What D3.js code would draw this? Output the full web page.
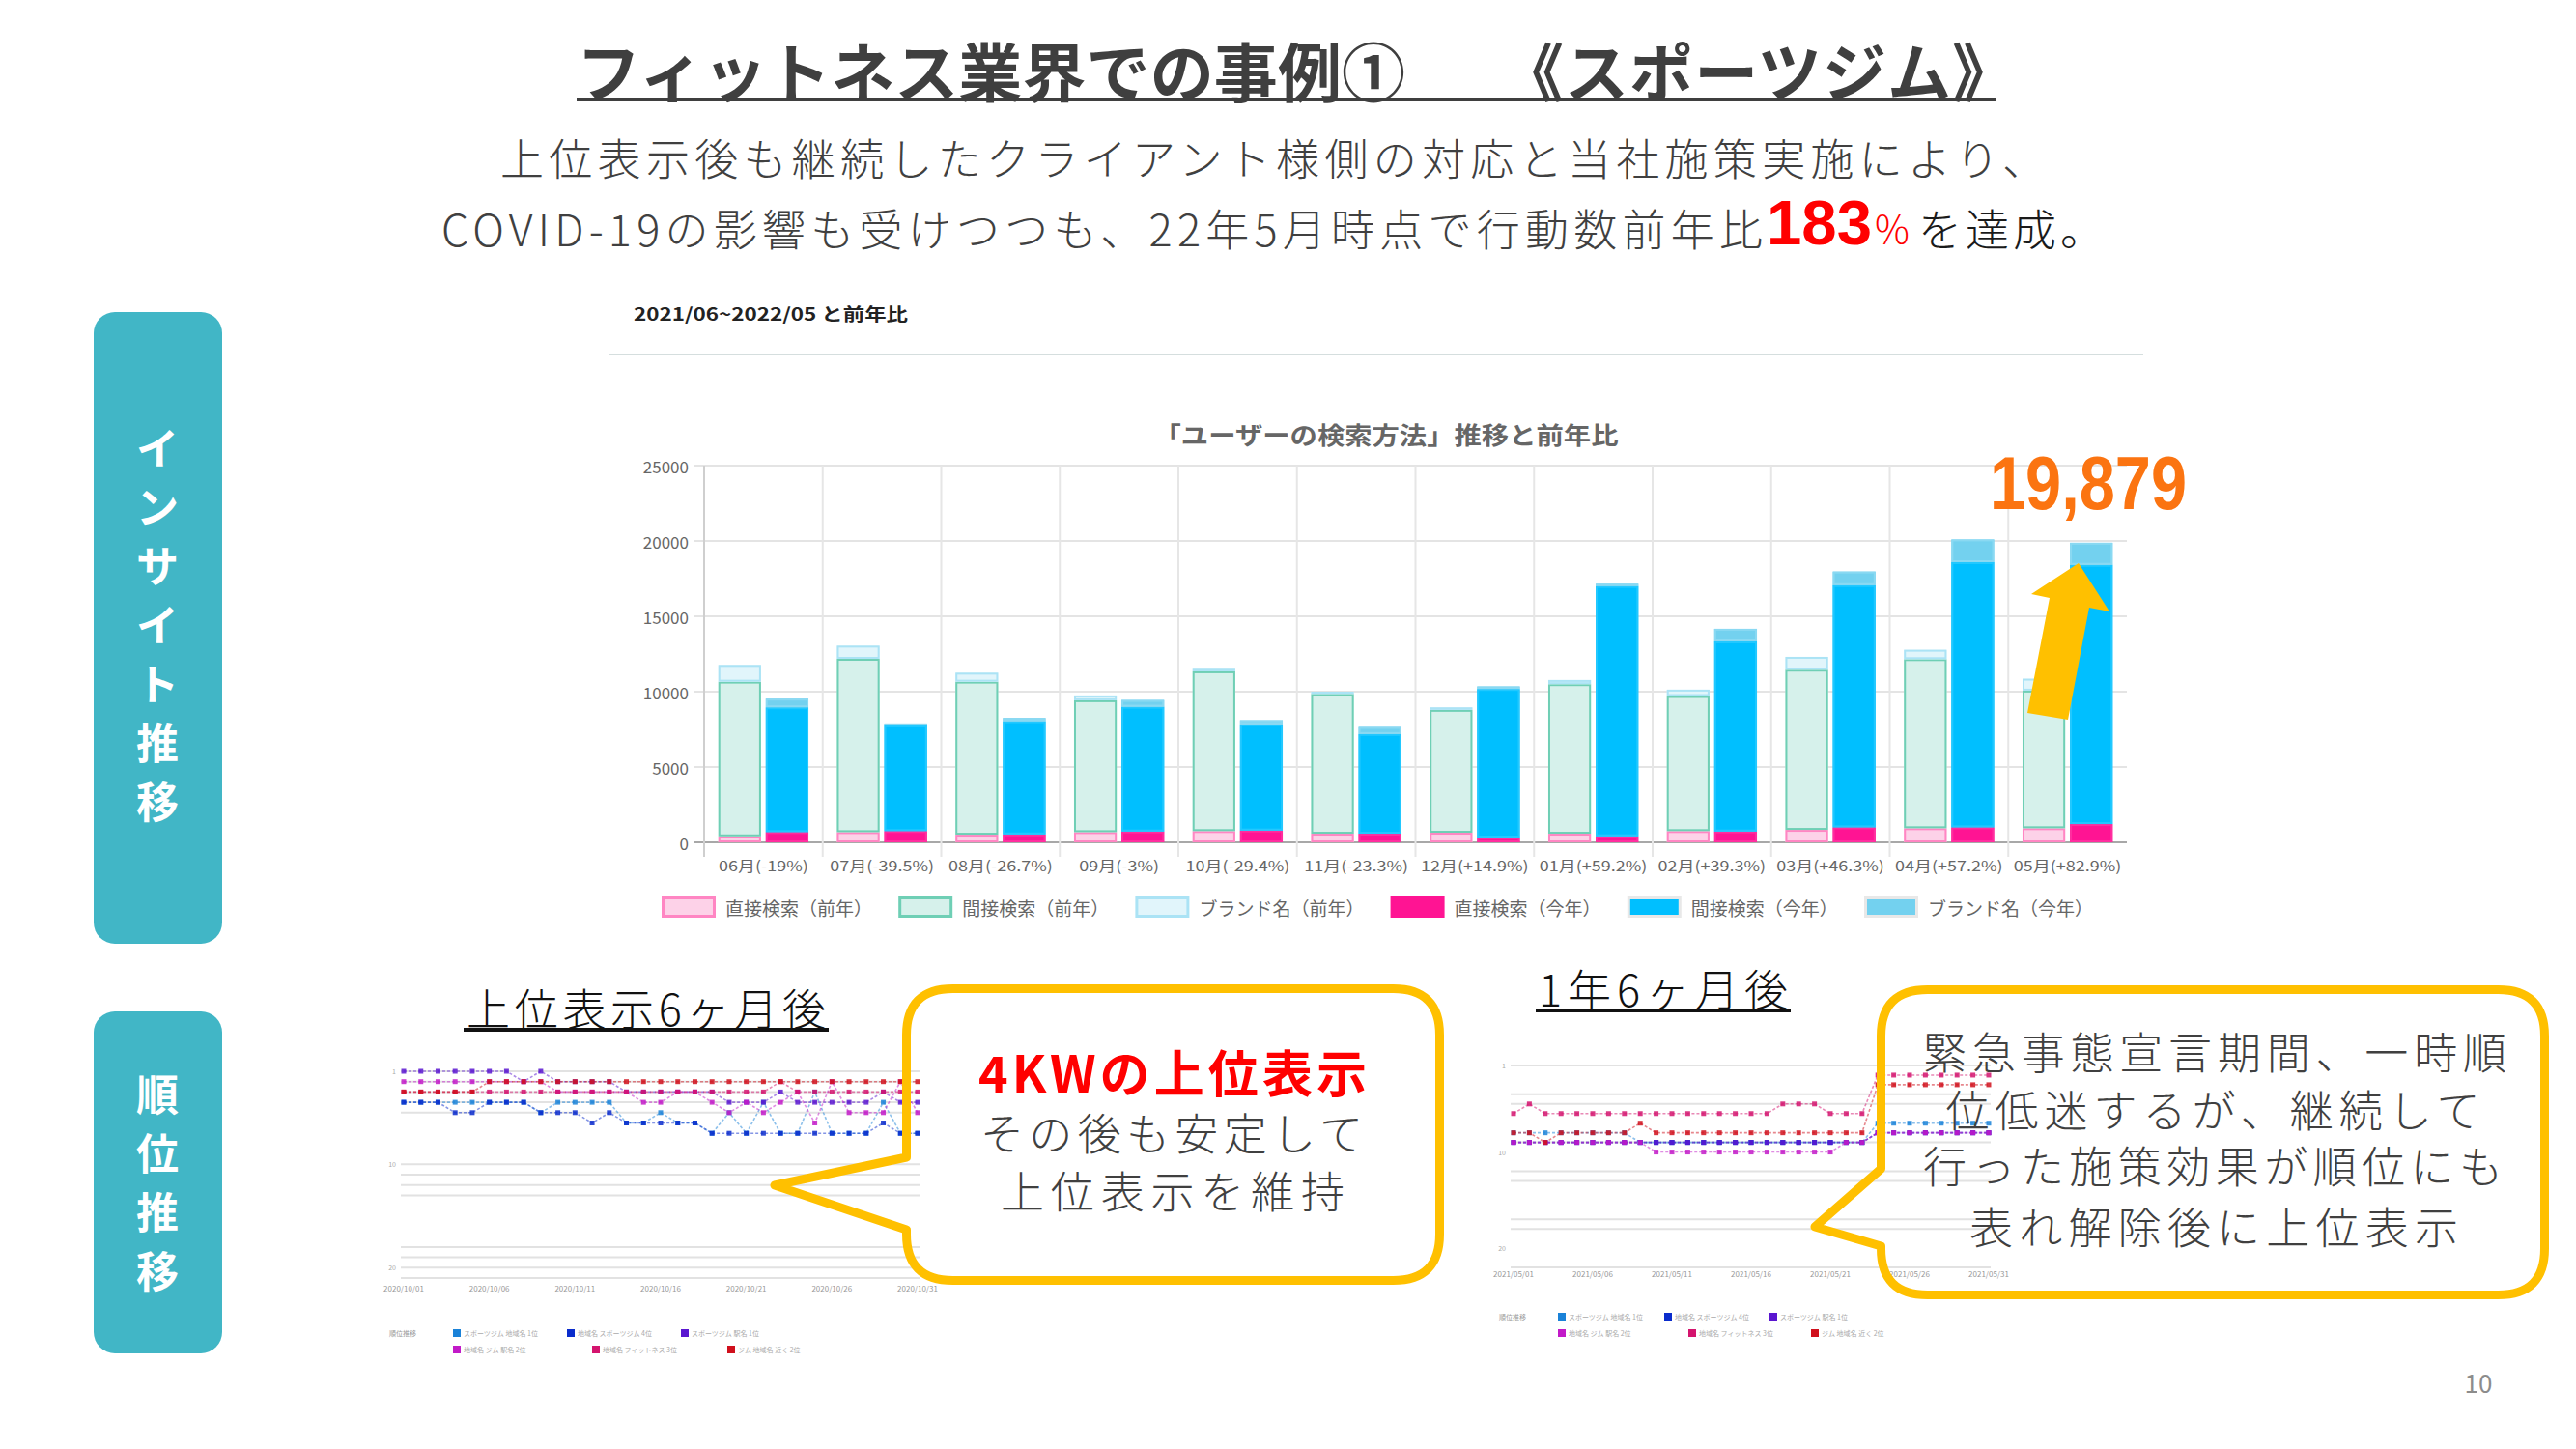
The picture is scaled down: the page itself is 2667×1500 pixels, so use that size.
<!DOCTYPE html>
<html><head><meta charset="utf-8">
<script src="https://cdn.jsdelivr.net/npm/d3@7"></script>
<style>
html,body{margin:0;padding:0;background:#fff;}
body{position:relative;width:2667px;height:1500px;overflow:hidden;}
svg{display:block;position:absolute;left:0;top:0;}
.ht{position:absolute;white-space:nowrap;}
</style></head>
<body>
<svg id="c" width="2667" height="1500"></svg>
<script>
// ---------------- DATA ----------------
const months = ["06月(-19%)","07月(-39.5%)","08月(-26.7%)","09月(-3%)","10月(-29.4%)","11月(-23.3%)","12月(+14.9%)","01月(+59.2%)","02月(+39.3%)","03月(+46.3%)","04月(+57.2%)","05月(+82.9%)"];
const prevDirect   = [400, 680, 510, 680, 750, 575, 640, 575, 750, 830, 940, 940];
const prevIndirect = [10265, 11500, 10155, 8750, 10600, 9280, 8150, 9925, 8960, 10630, 11220, 9130];
const prevBrand    = [1110, 875, 595, 320, 170, 145, 170, 275, 425, 850, 620, 790];
const curDirect    = [683, 750, 530, 725, 790, 575, 320, 405, 725, 1000, 1000, 1215];
const curIndirect  = [8277, 7015, 7510, 8275, 7040, 6615, 9860, 16605, 12610, 16070, 17590, 17200];
const curBrand     = [575, 125, 215, 450, 275, 470, 170, 150, 835, 900, 1510, 1464];
const yTicks = [0, 5000, 10000, 15000, 20000, 25000];
const legendLabels = ["直接検索（前年）","間接検索（前年）","ブランド名（前年）","直接検索（今年）","間接検索（今年）","ブランド名（今年）"];
const highlightValue = "19,879";

// ranking mini charts (31 daily points, rank values)
const rank1Azure   = [4,4,4,4,4,4,4,4,5,4,4,4,4,6,6,5,6,6,7,5,7,4,7,7,3,7,7,7,4,7,7];
const rank1Blue    = [4,4,4,5,5,4,4,4,5,5,5,6,5,6,6,6,6,6,7,7,7,7,7,7,7,7,7,7,6,7,7];
const rank1Violet  = [1,1,1,1,1,1,1,2,1,2,2,2,2,3,3,3,3,3,3,4,4,4,3,4,4,4,4,4,3,4,4];
const rank1Magenta = [2,2,2,2,2,2,2,2,2,3,3,3,3,3,4,4,3,3,4,5,4,5,4,3,6,2,5,5,5,2,5];
const rank1Crimson = [3,3,3,3,3,3,3,3,3,3,3,3,3,3,3,3,3,3,3,3,3,3,2,3,3,3,3,3,3,3,3];
const rank1Red     = [3,3,3,3,3,2,2,2,2,2,2,2,2,2,2,2,2,2,2,2,2,2,2,2,2,2,2,2,2,2,2];
const rank1Grid    = [1,2,3,4,5,10,11,12,13,18,19,20,21];
const rank1Dates   = ["2020/10/01","2020/10/06","2020/10/11","2020/10/16","2020/10/21","2020/10/26","2020/10/31"];

const rank2Azure   = [8,8,8,8,8,8,8,8,9,9,9,9,9,9,9,9,9,9,9,9,9,9,9,7,7,7,7,7,7,7,7];
const rank2Blue    = [9,9,9,9,9,9,9,9,9,9,9,9,9,9,9,9,9,9,9,9,9,9,9,8,8,8,8,8,8,8,8];
const rank2Violet  = [9,9,9,9,9,9,9,9,9,9,9,9,9,9,9,9,9,9,9,9,9,9,9,8,8,8,8,8,8,8,8];
const rank2Magenta = [9,9,9,9,9,9,9,9,9,10,10,10,10,10,10,10,10,10,10,10,10,9,9,8,8,8,8,8,8,8,8];
const rank2Crimson = [6,5,6,6,6,6,6,6,6,6,6,6,6,6,6,6,6,5,5,5,6,6,6,2,2,2,2,2,2,2,2];
const rank2Red     = [8,8,9,8,8,8,8,8,7,8,8,8,8,8,8,8,8,8,8,8,8,8,8,3,3,3,3,3,3,3,3];
const rank2Grid    = [1,4,5,9,12,13,17,18,22];
const rank2Dates   = ["2021/05/01","2021/05/06","2021/05/11","2021/05/16","2021/05/21","2021/05/26","2021/05/31"];
const rankLegendTitle = "順位推移";
const rankLegendLabels = ["スポーツジム 地域名 1位","地域名 スポーツジム 4位","スポーツジム 駅名 1位","地域名 ジム 駅名 2位","地域名 フィットネス 3位","ジム 地域名 近く 2位"];

const callout1Lines = ["4KWの上位表示","その後も安定して","上位表示を維持"];
const callout2Lines = ["緊急事態宣言期間、一時順","位低迷するが、継続して","行った施策効果が順位にも","表れ解除後に上位表示"];

// ---------------- DRAW ----------------
const F = '"Noto Sans CJK JP","Noto Sans",sans-serif';
const LAT = '"Liberation Sans",Arial,sans-serif';
const svg = d3.select("#c").style("font-family", F);

// Title
const title = svg.append("text").attr("y",71).attr("dominant-baseline","central")
  .attr("font-size",66).attr("font-weight",700).attr("fill","#3f3f3f");
title.append("tspan").attr("x",597).attr("textLength",858).attr("lengthAdjust","spacing").text("フィットネス業界での事例①");
title.append("tspan").attr("x",1553).attr("textLength",534).attr("lengthAdjust","spacing").text("《スポーツジム》");
svg.append("rect").attr("x",597).attr("y",101).attr("width",1470).attr("height",4).attr("fill","#3f3f3f");

// Sub lines
const sub = svg.append("text").attr("font-weight",300);
sub.append("tspan").attr("x",518).attr("y",162.5).attr("dominant-baseline","central")
  .attr("font-size",45).attr("fill","#404040")
  .attr("textLength",1600).attr("lengthAdjust","spacing")
  .text("上位表示後も継続したクライアント様側の対応と当社施策実施により、");
sub.append("tspan").attr("x",457).attr("y",235).attr("dominant-baseline","central")
  .attr("font-size",45).attr("fill","#404040")
  .attr("textLength",1368).attr("lengthAdjust","spacing")
  .text("COVID-19の影響も受けつつも、22年5月時点で行動数前年比");
sub.append("tspan").attr("x",1829).attr("y",253).attr("dominant-baseline","alphabetic")
  .attr("font-family",LAT).attr("font-size",64).attr("font-weight",700).attr("fill","#ff0000")
  .attr("textLength",109).attr("lengthAdjust","spacingAndGlyphs").text("183");
sub.append("tspan").attr("x",1941).attr("y",235).attr("dominant-baseline","central")
  .attr("font-size",40).attr("fill","#ff0000").text("%");
sub.append("tspan").attr("x",1986).attr("y",235).attr("dominant-baseline","central")
  .attr("font-size",45).attr("fill","#1a1a1a").attr("letter-spacing",4).text("を達成。");

// Left side panels
function panel(y0,y1,label,cy0){
  svg.append("rect").attr("x",97).attr("y",y0).attr("width",133).attr("height",y1-y0).attr("rx",22).attr("fill","#41b6c6");
  Array.from(label).forEach((ch,i)=>{
    svg.append("text").attr("x",163).attr("y",cy0+i*61).attr("text-anchor","middle").attr("dominant-baseline","central")
      .attr("font-size",44).attr("font-weight",700).attr("fill","#fff").text(ch);
  });
}
panel(323,977,"インサイト推移",462);
panel(1047,1401,"順位推移",1131);

// ---------- main chart ----------
svg.append("text").attr("x",656).attr("y",324).attr("dominant-baseline","central")
  .attr("font-size",18).attr("font-weight",700).attr("fill","#222")
  .attr("textLength",284).attr("lengthAdjust","spacingAndGlyphs").text("2021/06~2022/05 と前年比");
svg.append("line").attr("x1",630).attr("x2",2219).attr("y1",367).attr("y2",367).attr("stroke","#d5dede").attr("stroke-width",2);
svg.append("text").attr("x",1435).attr("y",449).attr("text-anchor","middle").attr("dominant-baseline","central")
  .attr("font-size",25).attr("font-weight",700).attr("fill","#666")
  .attr("textLength",481).attr("lengthAdjust","spacingAndGlyphs").text("「ユーザーの検索方法」推移と前年比");

const x = d3.scaleBand().domain(months).range([729,2202]).paddingInner(0.2).paddingOuter(0.1);
const xs = d3.scaleBand().domain(["prev","cur"]).range([0,x.bandwidth()]).paddingInner(0.1).paddingOuter(0.05);
const y = d3.scaleLinear().domain([0,25000]).range([872,482]);
const gc = svg.append("g");

yTicks.forEach(t=>{
  gc.append("line").attr("x1",719).attr("x2",2202).attr("y1",y(t)).attr("y2",y(t))
    .attr("stroke", t===0 ? "#a8a8a8" : "#e4e4e4").attr("stroke-width",2);
  gc.append("text").attr("x",713).attr("y",y(t)).attr("text-anchor","end").attr("dominant-baseline","central")
    .attr("font-size",17).attr("fill","#666").text(t);
});
months.forEach(m=>{
  const bx = x(m) - (x.step()-x.bandwidth())/2;
  gc.append("line").attr("x1",bx).attr("x2",bx).attr("y1",y(25000)).attr("y2",887)
    .attr("stroke", bx<730 ? "#cfcfcf" : "#e6e6e6").attr("stroke-width",2);
  const cx = x(m)+x.bandwidth()/2;
  gc.append("text").attr("x",cx).attr("y",896).attr("text-anchor","middle").attr("dominant-baseline","central")
    .attr("font-size",15).attr("fill","#666")
    .attr("transform",`translate(${cx},0) scale(1.2,1) translate(${-cx},0)`)
    .text(m);
});

const styles = [
  {fill:"#fdd2e8", stroke:"#ff86c3"},
  {fill:"#d6f1eb", stroke:"#6fcfb5"},
  {fill:"#e1f5fb", stroke:"#abe3f5"},
  {fill:"#ff1493", stroke:"#ff2e9f"},
  {fill:"#00bfff", stroke:"#22c8ff"},
  {fill:"#73d1ef", stroke:"#8ad9f2"}
];
months.forEach((m,i)=>{
  const groups = [["prev",[prevDirect[i],prevIndirect[i],prevBrand[i]],0],["cur",[curDirect[i],curIndirect[i],curBrand[i]],3]];
  groups.forEach(([k,vals,off])=>{
    let acc = 0;
    vals.forEach((v,j)=>{
      const st = styles[off+j];
      const yb = y(acc), yt = y(acc+v);
      acc += v;
      const bx = x(m)+xs(k), bw = xs.bandwidth(), bh = yb-yt;
      gc.append("rect").attr("x",bx).attr("y",yt).attr("width",bw).attr("height",bh).attr("fill",st.fill);
      if (bh > 4) {
        gc.append("rect").attr("x",bx+1).attr("y",yt+1).attr("width",bw-2).attr("height",bh-2)
          .attr("fill","none").attr("stroke",st.stroke).attr("stroke-width",2);
      } else {
        gc.append("rect").attr("x",bx).attr("y",yt).attr("width",bw).attr("height",bh).attr("fill",st.stroke);
      }
    });
  });
});

// legend
const lg = svg.append("g");
const items = legendLabels.map((lab,i)=>{
  const g = lg.append("g");
  const st = styles[i];
  g.append("rect").attr("x",1.5).attr("y",-9.5).attr("width",53).attr("height",19)
    .attr("fill",st.fill).attr("stroke", i<3 ? st.stroke : (i===3?st.fill:"#e8e8e8")).attr("stroke-width",3);
  const t = g.append("text").attr("x",66).attr("y",0).attr("dominant-baseline","central")
    .attr("font-size",19).attr("fill","#666").text(lab);
  return {g, w: 66 + t.node().getComputedTextLength()};
});
const totalW = 2167-685;
const pad = (totalW - d3.sum(items, d=>d.w)) / (items.length-1);
let lx = 685;
items.forEach(it=>{ it.g.attr("transform",`translate(${lx},939)`); lx += it.w + pad; });

// arrow annotation + value
svg.append("path").attr("d","M2152,583 L2184,633 L2163,629 L2141,745 L2099,738 L2122,619 L2103,615 Z").attr("fill","#ffc000");
svg.append("text").attr("x",2060).attr("y",527)
  .attr("font-family",LAT).attr("font-size",77).attr("font-weight",700).attr("fill","#fb7411")
  .attr("textLength",204).attr("lengthAdjust","spacingAndGlyphs").text(highlightValue);

// ---------- bottom: headings ----------
function heading(x0,x1,cy,txt,uy){
  svg.append("text").attr("x",x0).attr("y",cy).attr("dominant-baseline","central")
    .attr("font-size",45).attr("font-weight",300).attr("fill","#111")
    .attr("textLength",x1-x0).attr("lengthAdjust","spacing").text(txt);
  svg.append("rect").attr("x",x0-3).attr("y",uy-2).attr("width",x1-x0+6).attr("height",4).attr("fill","#111");
}
heading(483,855,1042,"上位表示6ヶ月後",1066);
heading(1593,1851,1022,"1年6ヶ月後",1046);

function calloutPath(x0,y0,x1,y1,r,tx,ty,b0,b1){
  const p = d3.path();
  p.moveTo(x0+r,y0);
  p.lineTo(x1-r,y0); p.quadraticCurveTo(x1,y0,x1,y0+r);
  p.lineTo(x1,y1-r); p.quadraticCurveTo(x1,y1,x1-r,y1);
  p.lineTo(x0+r,y1); p.quadraticCurveTo(x0,y1,x0,y1-r);
  p.lineTo(x0,b1); p.lineTo(tx,ty); p.lineTo(x0,b0);
  p.lineTo(x0,y0+r); p.quadraticCurveTo(x0,y0,x0+r,y0);
  p.closePath();
  return p.toString();
}
const c1 = calloutPath(938.5,1023.5,1490.5,1325.5,48,802,1227,1198,1273);
const c2 = calloutPath(1947.5,1024.5,2634.5,1340.5,48,1879,1270,1210,1290);
svg.append("path").attr("d",c1).attr("fill","#fff");
svg.append("path").attr("d",c2).attr("fill","#fff");

function rankChart(cfg){
  const g = svg.append("g");
  const xr = d3.scaleLinear().domain([0,30]).range([cfg.x0,cfg.x1]);
  const yr = d3.scaleLinear().domain([1,cfg.maxRank]).range([cfg.y0,cfg.y1]);
  cfg.grid.forEach(r=>{
    g.append("line").attr("x1",cfg.x0-3).attr("x2",cfg.x1+2).attr("y1",yr(r)).attr("y2",yr(r))
      .attr("stroke","#e2e2e2").attr("stroke-width",2);
  });
  [1,10,20].forEach(r=>{
    g.append("text").attr("x",cfg.x0-8).attr("y",yr(r)).attr("text-anchor","end").attr("dominant-baseline","central")
      .attr("font-size",7).attr("fill","#aaa").text(r);
  });
  cfg.dates.forEach((d,i)=>{
    g.append("text").attr("x",xr(i*5)).attr("y",cfg.labelY).attr("text-anchor","middle").attr("dominant-baseline","central")
      .attr("font-size",8).attr("fill","#999").text(d);
  });
  const line = d3.line().x((d,i)=>xr(i)).y(d=>yr(d));
  cfg.series.forEach(s=>{
    g.append("path").attr("d",line(s.data)).attr("fill","none").attr("stroke",s.color)
      .attr("stroke-width",1.6).attr("stroke-opacity",0.5).attr("stroke-dasharray","3,2");
    s.data.forEach((v,i)=>{
      g.append("rect").attr("x",xr(i)-2.5).attr("y",yr(v)-2.5).attr("width",5).attr("height",5)
        .attr("fill",s.color).attr("fill-opacity",0.85);
    });
  });
  g.append("text").attr("x",cfg.legX).attr("y",cfg.legY[0]).attr("dominant-baseline","central")
    .attr("font-size",7).attr("fill","#999").text(rankLegendTitle);
  cfg.series.forEach((s,i)=>{
    const lx = cfg.legPos[i], ly = cfg.legY[i<3?0:1];
    g.append("rect").attr("x",lx).attr("y",ly-4).attr("width",8).attr("height",8).attr("fill",s.color);
    g.append("text").attr("x",lx+11).attr("y",ly).attr("dominant-baseline","central")
      .attr("font-size",7).attr("fill","#aaa").text(rankLegendLabels[i]);
  });
}
const colors = {azure:"#1a82d8", blue:"#0a2ccc", violet:"#5a16d0", magenta:"#c21ac8", crimson:"#d4146e", red:"#d0101c"};
rankChart({x0:418,x1:950,y0:1109,y1:1323,maxRank:21,grid:rank1Grid,dates:rank1Dates,labelY:1333,
  legX:403,legY:[1380,1397],legPos:[469,587,705,469,613,753],
  series:[{data:rank1Azure,color:colors.azure},{data:rank1Blue,color:colors.blue},{data:rank1Violet,color:colors.violet},
          {data:rank1Magenta,color:colors.magenta},{data:rank1Crimson,color:colors.crimson},{data:rank1Red,color:colors.red}]});
rankChart({x0:1567,x1:2059,y0:1103,y1:1312,maxRank:22,grid:rank2Grid,dates:rank2Dates,labelY:1318,
  legX:1552,legY:[1363,1380],legPos:[1613,1723,1832,1613,1748,1875],
  series:[{data:rank2Azure,color:colors.azure},{data:rank2Blue,color:colors.blue},{data:rank2Violet,color:colors.violet},
          {data:rank2Magenta,color:colors.magenta},{data:rank2Crimson,color:colors.crimson},{data:rank2Red,color:colors.red}]});

svg.append("path").attr("d",c1).attr("fill","none").attr("stroke","#ffc000").attr("stroke-width",9).attr("stroke-linejoin","round");
svg.append("path").attr("d",c2).attr("fill","none").attr("stroke","#ffc000").attr("stroke-width",9).attr("stroke-linejoin","round");

// callout texts as HTML lines with fixed line boxes (tight line pitch, no box overlap)
function htmlLines(lines, lh){
  lines.forEach(l=>{
    const d = d3.select("body").append("div").attr("class","ht")
      .style("font-family",F).style("font-size",l.size+"px").style("font-weight",l.weight)
      .style("color",l.color).style("line-height",lh+"px").style("height",lh+"px").text(l.txt);
    const node = d.node();
    const nat = node.getBoundingClientRect().width;
    const n = Array.from(l.txt).length;
    const ls = (l.w - nat)/(n-1);
    d.style("letter-spacing",ls+"px");
    d.style("left",(l.cx - l.w/2)+"px");
    d.style("top",(l.cy - lh/2 - 0.056*l.size)+"px");
  });
}
htmlLines([
  {cx:1214,cy:1112,w:402,txt:callout1Lines[0],size:52,color:"#ff0000",weight:700},
  {cx:1213,cy:1175,w:396,txt:callout1Lines[1],size:45,color:"#404040",weight:300},
  {cx:1214,cy:1235,w:356,txt:callout1Lines[2],size:45,color:"#404040",weight:300}
], 58);
htmlLines([
  {cx:2293,cy:1091,w:604,txt:callout2Lines[0],size:45,color:"#404040",weight:300},
  {cx:2291,cy:1151,w:553,txt:callout2Lines[1],size:45,color:"#404040",weight:300},
  {cx:2291,cy:1209,w:600,txt:callout2Lines[2],size:45,color:"#404040",weight:300},
  {cx:2292,cy:1272,w:506,txt:callout2Lines[3],size:45,color:"#404040",weight:300}
], 56);

svg.append("text").attr("x",2566).attr("y",1430).attr("text-anchor","middle").attr("dominant-baseline","central")
  .attr("font-size",26).attr("fill","#8c8c8c").text("10");
</script>
</body></html>
